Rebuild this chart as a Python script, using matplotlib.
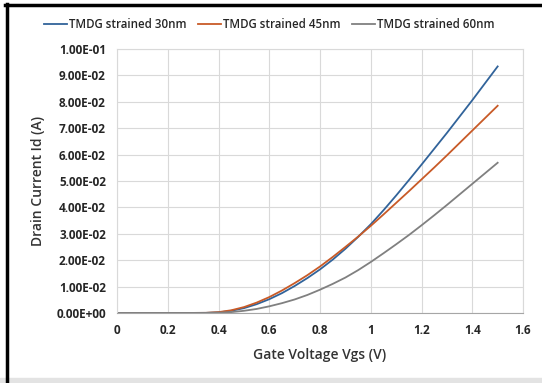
import matplotlib.pyplot as plt
from matplotlib.ticker import FuncFormatter, MultipleLocator
from matplotlib.lines import Line2D
from matplotlib.patches import Rectangle

# gate voltage (V)
vgs = [0.0, 0.05, 0.1, 0.15, 0.2, 0.25, 0.3, 0.35, 0.4, 0.45, 0.5, 0.55, 0.6,
       0.65, 0.7, 0.75, 0.8, 0.85, 0.9, 0.95, 1.0, 1.05, 1.1, 1.15, 1.2,
       1.25, 1.3, 1.35, 1.4, 1.45, 1.5]

# drain current (A)
id_30nm = [0, 0, 0, 0, 0, 0, 0, 0.00002, 0.0002, 0.0008, 0.0018, 0.0033, 0.0052,
           0.0075, 0.0102, 0.0132, 0.0165, 0.0202, 0.0243, 0.0288, 0.0336,
           0.0389, 0.0445, 0.0503, 0.0562, 0.0622, 0.0682, 0.0744, 0.0806,
           0.0870, 0.0934]
id_45nm = [0, 0, 0, 0, 0, 0, 0, 0.00003, 0.0003, 0.0010, 0.0022, 0.0039, 0.0060,
           0.0085, 0.0113, 0.0143, 0.0176, 0.0212, 0.0250, 0.0289, 0.0330,
           0.0373, 0.0417, 0.0461, 0.0506, 0.0551, 0.0597, 0.0644, 0.0691,
           0.0738, 0.0785]
id_60nm = [0, 0, 0, 0, 0, 0, 0, 0, 0.0001, 0.0003, 0.0008, 0.0015, 0.0025,
           0.0037, 0.0051, 0.0068, 0.0088, 0.0110, 0.0134, 0.0162, 0.0193,
           0.0226, 0.0260, 0.0295, 0.0332, 0.0370, 0.0409, 0.0449, 0.0489,
           0.0529, 0.0569]

labels = ['TMDG strained 30nm', 'TMDG strained 45nm', 'TMDG strained 60nm']
colors = ['#31639a', '#c85a27', '#808080']

plt.rcParams['font.family'] = ['Open Sans', 'DejaVu Sans']

fig = plt.figure(figsize=(5.42, 3.83), dpi=100)
ax = fig.add_axes([0.216, 0.183, 0.749, 0.689])

for ys, lab, c in zip([id_30nm, id_45nm, id_60nm], labels, colors):
    ax.plot(vgs, ys, color=c, lw=1.3, label=lab)

ax.set_xlim(0, 1.6)
ax.set_ylim(0, 0.1)
ax.xaxis.set_major_locator(MultipleLocator(0.2))
ax.yaxis.set_major_locator(MultipleLocator(0.01))
ax.xaxis.set_major_formatter(FuncFormatter(lambda v, p: f'{v:g}'))
ax.yaxis.set_major_formatter(FuncFormatter(
    lambda v, p: '0.00E+00' if abs(v) < 1e-12 else f'{v:.2E}'))
ax.grid(True, color='#d9d9d9', lw=0.8)
ax.set_axisbelow(True)
for s in ax.spines.values():
    s.set_color('#d9d9d9')
ax.spines['bottom'].set_color('#a6a6a6')
ax.tick_params(length=0, labelsize=8.5, pad=8)
for t in ax.get_xticklabels() + ax.get_yticklabels():
    t.set_fontweight('bold')
    t.set_color('#262626')

ax.set_xlabel('Gate Voltage Vgs (V)', fontsize=10, fontweight='semibold',
              color='#333333', labelpad=8)
ax.set_ylabel('Drain Current Id (A)', fontsize=10, fontweight='semibold',
              color='#333333', labelpad=8)

fig.legend(loc='center', bbox_to_anchor=(0.497, 0.935), ncol=3, frameon=False,
           prop={'size': 8.3, 'weight': 'semibold'}, handlelength=1.95,
           handletextpad=0.2, columnspacing=1.0, labelcolor='#262626')

# frame from the original screenshot
fig.add_artist(Line2D([0.012, 0.012], [0, 0.99], color='black', lw=2.5,
                      transform=fig.transFigure))
fig.add_artist(Line2D([0.01, 1.0], [0.987, 0.987], color='black', lw=2.5,
                      transform=fig.transFigure))
fig.add_artist(Rectangle((0, 0), 1, 0.013, color='#e3e3e3',
                         transform=fig.transFigure))

fig.savefig('out.png', dpi=100)
